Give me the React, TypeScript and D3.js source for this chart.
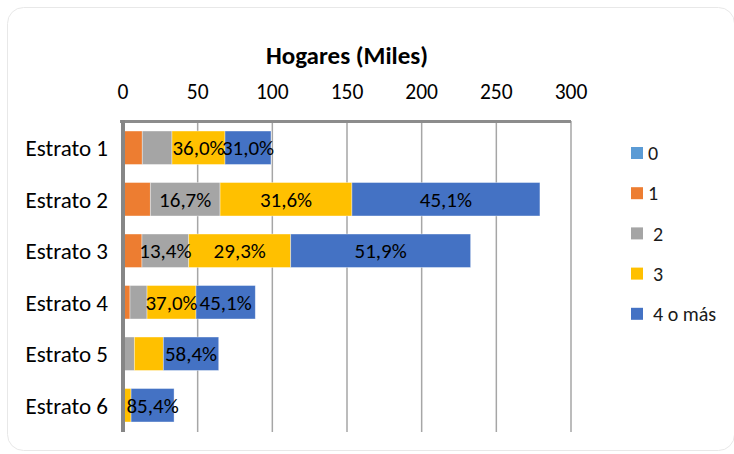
import React from "react";
import * as d3 from "d3";

const categories = ["Estrato 1", "Estrato 2", "Estrato 3", "Estrato 4", "Estrato 5", "Estrato 6"];
const seriesNames = ["0", "1", "2", "3", "4 o más"];
const seriesColors = ["#5B9BD5", "#ED7D31", "#A5A5A5", "#FFC000", "#4472C4"];

// values in thousands of households, per series, per category
const s0 = [0.5, 0.5, 1.0, 0.5, 0.3, 0.2];
const s1 = [12.4, 17.8, 11.7, 4.2, 0.5, 0.2];
const s2 = [19.9, 46.7, 31.3, 11.4, 6.8, 0.4];
const s3 = [35.5, 88.3, 68.3, 32.8, 19.4, 4.6];
const s4 = [30.8, 125.9, 120.5, 39.7, 37.1, 28.8];
const seriesValues = [s0, s1, s2, s3, s4];

// data labels shown in the chart
const lab0 = ["", "", "", "", "", ""];
const lab1 = ["", "", "", "", "", ""];
const lab2 = ["", "16,7%", "13,4%", "", "", ""];
const lab3 = ["36,0%", "31,6%", "29,3%", "37,0%", "", ""];
const lab4 = ["31,0%", "45,1%", "51,9%", "45,1%", "58,4%", "85,4%"];
const seriesLabels = [lab0, lab1, lab2, lab3, lab4];

const xTicks = [0, 50, 100, 150, 200, 250, 300];
const title = "Hogares (Miles)";

const FONT = "Carlito, Calibri, Lato, 'Open Sans', sans-serif";

export default function App() {
  const width = 734;
  const height = 454;
  const x = d3.scaleLinear().domain([0, 300]).range([123, 571]);
  const y = d3
    .scaleBand<string>()
    .domain(categories)
    .range([122, 431])
    .paddingInner(0.35)
    .paddingOuter(0.175);

  const table = categories.map((c, i) => {
    const row: any = { cat: c };
    seriesNames.forEach((s, j) => (row[s] = seriesValues[j][i]));
    return row;
  });
  const stacked = d3.stack<any>().keys(seriesNames)(table);

  const plotTop = 121;
  const plotBottom = 432;

  return (
    <svg
      width={width}
      height={height}
      style={{ position: "absolute", left: 0, top: 0, background: "#fff" }}
      fontFamily={FONT}
    >
      <rect x={7.5} y={7.5} width={727} height={443} rx={16} fill="#fff" stroke="#e8e8e8" strokeWidth={1} />

      <text x={347} y={64} textAnchor="middle" fontSize={25} fontWeight="bold" fill="#000">
        {title}
      </text>

      {xTicks.map((t) => (
        <g key={t}>
          {t > 0 && (
            <line x1={x(t)} x2={x(t)} y1={plotTop} y2={plotBottom} stroke="#a6a6a6" strokeWidth={1.5} />
          )}
          <text x={x(t)} y={99} textAnchor="middle" fontSize={21.5} fill="#000">
            {t}
          </text>
        </g>
      ))}

      {stacked.map((layer, j) => (
        <g key={seriesNames[j]}>
          {layer.map((d, i) => {
            const w = x(d[1]) - x(d[0]);
            if (w <= 0) return null;
            return (
              <rect
                key={i}
                x={x(d[0])}
                y={y(categories[i])}
                width={w}
                height={y.bandwidth()}
                fill={seriesColors[j]}
                stroke="#ffffff"
                strokeOpacity={0.5}
                strokeWidth={0.75}
              />
            );
          })}
        </g>
      ))}

      {stacked.map((layer, j) => (
        <g key={"l" + seriesNames[j]}>
          {layer.map((d, i) => {
            const txt = seriesLabels[j][i];
            if (!txt) return null;
            return (
              <text
                key={i}
                x={(x(d[0]) + x(d[1])) / 2}
                y={(y(categories[i]) as number) + y.bandwidth() / 2}
                dy="0.36em"
                textAnchor="middle"
                fontSize={21}
                fill="#000"
              >
                {txt}
              </text>
            );
          })}
        </g>
      ))}

      <line x1={120} x2={571} y1={121.5} y2={121.5} stroke="#8c8c8c" strokeWidth={3} />
      <line x1={123} x2={123} y1={120} y2={plotBottom} stroke="#868686" strokeWidth={4} />

      {categories.map((c) => (
        <text
          key={c}
          x={108}
          y={(y(c) as number) + y.bandwidth() / 2}
          dy="0.36em"
          textAnchor="end"
          fontSize={23}
          fill="#000"
        >
          {c}
        </text>
      ))}

      {seriesNames.map((s, j) => {
        const cy = 153 + j * 40.2;
        const lx = j < 2 ? 648 : 653;
        return (
          <g key={s}>
            <rect x={631} y={cy - 6} width={12} height={12} fill={seriesColors[j]} />
            <text x={lx} y={cy} dy="0.36em" fontSize={20} fill="#1a1a1a">
              {s}
            </text>
          </g>
        );
      })}
    </svg>
  );
}
